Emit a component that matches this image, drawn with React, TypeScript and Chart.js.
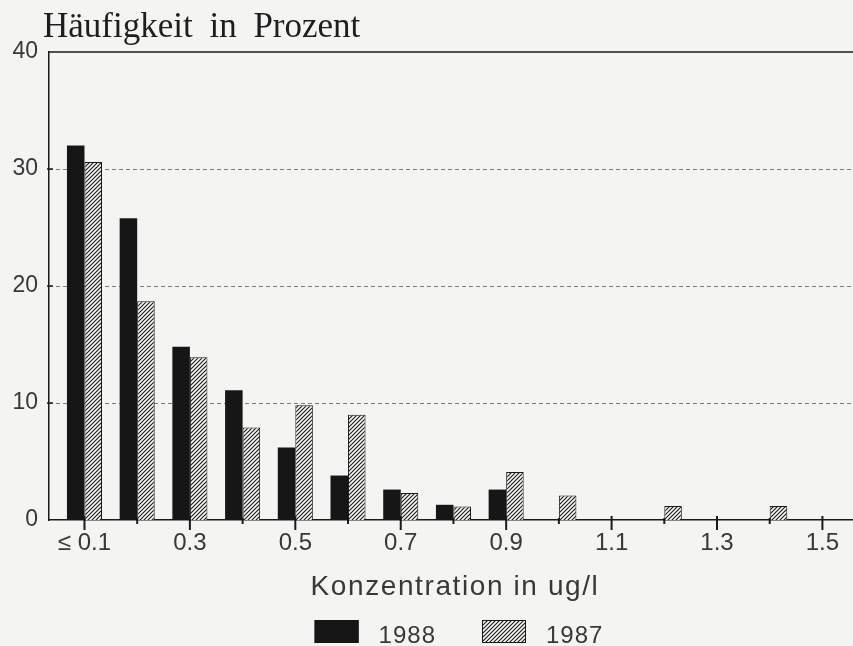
import React, { useEffect, useRef } from 'react';
import { Chart, registerables } from 'chart.js';

Chart.register(...registerables);

const concentrations = [0.1, 0.2, 0.3, 0.4, 0.5, 0.6, 0.7, 0.8, 0.9, 1.0, 1.1, 1.2, 1.3, 1.4, 1.5];
const tickLabels = ['≤ 0.1', '', '0.3', '', '0.5', '', '0.7', '', '0.9', '', '1.1', '', '1.3', '', '1.5'];
const share1988 = [32.0, 25.8, 14.8, 11.1, 6.2, 3.8, 2.6, 1.3, 2.6, null, null, null, null, null, null];
const share1987 = [30.6, 18.7, 13.9, 7.9, 9.8, 9.0, 2.3, 1.15, 4.1, 2.1, null, 1.2, null, 1.2, null];
const yTicks = [0, 10, 20, 30, 40];
const seriesLabels = ['1988', '1987'];
const titleText = 'Häufigkeit in Prozent';
const xTitleText = 'Konzentration in ug/l';

const INK = '#1a1a1a';
const TEXT = '#383838';
const SANS = '"Liberation Sans", Arial, sans-serif';

function makeHatch(): CanvasPattern | string {
  const s = 4;
  const c = document.createElement('canvas');
  c.width = s;
  c.height = s;
  const g = c.getContext('2d');
  if (!g) return '#888';
  g.fillStyle = '#fbfbf9';
  g.fillRect(0, 0, s, s);
  g.strokeStyle = '#1c1c1c';
  g.lineWidth = 1.2;
  g.beginPath();
  g.moveTo(0, s);
  g.lineTo(s, 0);
  g.moveTo(-1, 1);
  g.lineTo(1, -1);
  g.moveTo(s - 1, s + 1);
  g.lineTo(s + 1, s - 1);
  g.stroke();
  return g.createPattern(c, 'repeat') || '#888';
}

const decor = {
  id: 'decor',
  beforeDatasetsDraw(chart: any) {
    const { ctx, chartArea, scales } = chart;
    const { left, right } = chartArea;
    const y = scales.y;
    ctx.save();
    ctx.strokeStyle = '#7c7c7c';
    ctx.lineWidth = 1;
    ctx.setLineDash([4, 3]);
    yTicks.forEach((v) => {
      if (v > y.min && v < y.max) {
        const py = Math.round(y.getPixelForValue(v)) + 0.5;
        ctx.beginPath();
        ctx.moveTo(left, py);
        ctx.lineTo(right, py);
        ctx.stroke();
      }
    });
    ctx.restore();
  },
  afterDraw(chart: any) {
    const { ctx, chartArea, scales } = chart;
    const { left, right, top, bottom } = chartArea;
    const x = scales.x;
    const y = scales.y;
    ctx.save();
    // top frame line
    ctx.strokeStyle = INK;
    ctx.lineWidth = 1.5;
    ctx.beginPath();
    ctx.moveTo(left, top);
    ctx.lineTo(right, top);
    ctx.stroke();
    // y tick marks
    yTicks.forEach((v) => {
      if (v > y.min && v < y.max) {
        const py = y.getPixelForValue(v);
        ctx.beginPath();
        ctx.moveTo(left - 2, py);
        ctx.lineTo(left + 4, py);
        ctx.stroke();
      }
    });
    // x tick marks
    ctx.lineWidth = 2;
    concentrations.forEach((v, i) => {
      const px = x.getPixelForValue(v);
      const major = tickLabels[i] !== '';
      ctx.beginPath();
      ctx.moveTo(px, bottom - (major ? 4 : 2));
      ctx.lineTo(px, bottom + (major ? 10 : 4));
      ctx.stroke();
    });
    // title
    ctx.fillStyle = '#1e1e1e';
    ctx.font = '35px "Liberation Serif", "Times New Roman", serif';
    ctx.textAlign = 'left';
    ctx.textBaseline = 'alphabetic';
    (ctx as any).wordSpacing = '8px';
    ctx.fillText(titleText, left - 6, top - 15);
    (ctx as any).wordSpacing = '0px';
    // x axis title
    const cx = (left + right) / 2 + 4;
    ctx.fillStyle = TEXT;
    ctx.font = '28px ' + SANS;
    (ctx as any).letterSpacing = '1.6px';
    ctx.textAlign = 'center';
    ctx.fillText(xTitleText, cx, bottom + 75);
    // legend
    ctx.font = '24px ' + SANS;
    (ctx as any).letterSpacing = '1px';
    ctx.textAlign = 'left';
    const boxW = 44;
    const boxH = 23;
    const gap = 20;
    const itemGap = 46;
    const items = chart.data.datasets.map((ds: any) => ({
      ds,
      w: boxW + gap + ctx.measureText(ds.label).width,
    }));
    const total = items.reduce((a: number, it: any) => a + it.w, 0) + itemGap * (items.length - 1);
    let lx = cx - total / 2 + 4;
    items.forEach((it: any) => {
      const by = bottom + 100;
      ctx.fillStyle = it.ds.backgroundColor;
      ctx.fillRect(lx, by, boxW, boxH);
      ctx.strokeStyle = it.ds.borderColor;
      ctx.lineWidth = 1;
      ctx.strokeRect(lx + 0.5, by + 0.5, boxW - 1, boxH - 1);
      ctx.fillStyle = TEXT;
      ctx.fillText(it.ds.label, lx + boxW + gap, bottom + 123);
      lx += it.w + itemGap;
    });
    ctx.restore();
  },
};

export default function App() {
  const ref = useRef<HTMLCanvasElement>(null);
  useEffect(() => {
    if (!ref.current) return;
    const hatch = makeHatch();
    const chart = new Chart(ref.current, {
      type: 'bar',
      data: {
        datasets: [
          {
            label: seriesLabels[0],
            data: concentrations.map((c, i) => ({ x: c, y: share1988[i] })) as any,
            backgroundColor: '#161616',
            borderColor: '#161616',
            borderWidth: 0,
            barPercentage: 1,
            categoryPercentage: 0.665,
          },
          {
            label: seriesLabels[1],
            data: concentrations.map((c, i) => ({ x: c, y: share1987[i] })) as any,
            backgroundColor: hatch as any,
            borderColor: INK,
            borderWidth: 1,
            barPercentage: 1,
            categoryPercentage: 0.665,
          },
        ],
      },
      options: {
        responsive: false,
        animation: false,
        layout: { padding: { top: 52, left: 0, right: 0, bottom: 0 } },
        plugins: {
          legend: { display: false },
          title: { display: false },
          tooltip: { enabled: false },
        },
        scales: {
          x: {
            type: 'linear',
            offset: false,
            min: 0.0327,
            max: 1.558,
            afterBuildTicks: (s: any) => {
              s.ticks = concentrations.map((v) => ({ value: v }));
            },
            afterFit: (s: any) => {
              s.height = 126;
            },
            grid: { display: false, drawTicks: false, offset: false },
            border: { display: true, color: INK, width: 1.5 },
            ticks: {
              autoSkip: false,
              maxRotation: 0,
              minRotation: 0,
              padding: 9,
              color: TEXT,
              font: { family: SANS, size: 24 },
              callback: (_v: any, i: number) => tickLabels[i],
            },
          },
          y: {
            min: 0,
            max: 40,
            afterBuildTicks: (s: any) => {
              s.ticks = yTicks.map((v) => ({ value: v }));
            },
            afterFit: (s: any) => {
              s.width = 49;
            },
            grid: { display: false, drawTicks: false },
            border: { display: true, color: INK, width: 1.5 },
            ticks: {
              padding: 11,
              color: TEXT,
              font: { family: SANS, size: 23 },
            },
          },
        },
      } as any,
      plugins: [decor],
    });
    return () => chart.destroy();
  }, []);
  return (
    <div style={{ position: 'absolute', left: 0, top: 0, width: 853, height: 646, background: '#f4f4f2' }}>
      <canvas ref={ref} width={853} height={646} style={{ display: 'block' }} />
    </div>
  );
}
